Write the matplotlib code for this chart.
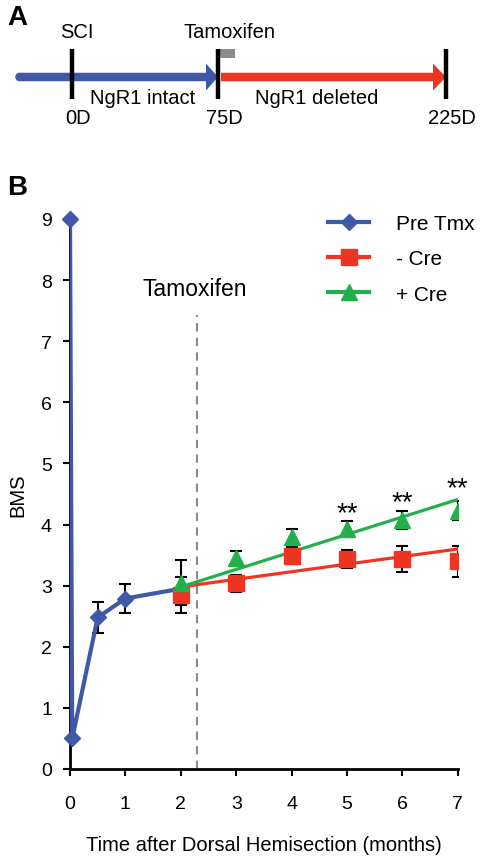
import numpy as np
import matplotlib
matplotlib.use("Agg")
import matplotlib.pyplot as plt
from matplotlib.patches import FancyArrow, Rectangle, Circle
from matplotlib.lines import Line2D

plt.rcParams["font.family"] = ["Liberation Sans", "DejaVu Sans"]

## data
# panel A timeline
day_labels = ["0D", "75D", "225D"]
phase_labels = ["NgR1 intact", "NgR1 deleted"]
event_labels = ["SCI", "Tamoxifen"]

# panel B
pre_x = [0, 0.04, 0.5, 1, 2]
pre_y = [9.0, 0.50, 2.48, 2.79, 2.95]
pre_err = [0, 0, 0.25, 0.23, 0]

months = [2, 3, 4, 5, 6, 7]
nocre_y = [2.85, 3.04, 3.49, 3.44, 3.44, 3.40]
nocre_err = [0.29, 0.14, 0.14, 0.15, 0.21, 0.25]
cre_y = [3.05, 3.46, 3.79, 3.93, 4.08, 4.23]
cre_err = [0.37, 0.10, 0.14, 0.13, 0.15, 0.15]

fit_x = [2, 7]
nocre_fit = [2.98, 3.60]
cre_fit = [2.98, 4.41]

star_x = [5, 6, 7]
star_y = [4.33, 4.52, 4.74]

tamoxifen_month = 2.3

BLUE = "#3F58A8"
RED = "#EE3524"
GREEN = "#23B04B"

fig = plt.figure(figsize=(4.82, 8.62), dpi=100)

## PANEL A (drawn in pixel coordinates)
axA = fig.add_axes([0, 0, 1, 1])
axA.set_xlim(0, 482)
axA.set_ylim(862, 0)
axA.axis("off")

axA.add_patch(Circle((19.5, 78), 4.25, color=BLUE, lw=0))
axA.add_patch(FancyArrow(19.5, 78, 198.5, 0, width=8.5, head_width=27, head_length=12,
                         length_includes_head=True, color=BLUE, lw=0))
axA.add_patch(FancyArrow(221, 78, 225, 0, width=8.5, head_width=27, head_length=13,
                         length_includes_head=True, color=RED, lw=0))
bar_x = [72, 218, 446]
for bx, lab in zip(bar_x, day_labels):
    axA.plot([bx, bx], [50, 100], color="k", lw=3.2, solid_capstyle="butt")
    axA.text(bx + 6, 118, lab, ha="center", va="center", fontsize=14.5)
axA.add_patch(Rectangle((216, 50), 19, 9, color="#8c8c8c", lw=0))
axA.text(77, 33, event_labels[0], ha="center", va="center", fontsize=14.5)
axA.text(230, 33, event_labels[1], ha="center", va="center", fontsize=14.5)
axA.text(143, 98, phase_labels[0], ha="center", va="center", fontsize=14.5)
axA.text(317, 98, phase_labels[1], ha="center", va="center", fontsize=14.5)
axA.text(7, 18, "A", ha="left", va="center", fontsize=20, fontweight="bold")
axA.text(7, 188, "B", ha="left", va="center", fontsize=20, fontweight="bold")

## PANEL B
ax = fig.add_axes([70/482, 1-770/862, 387.7/482, 550/862])

ax.axvline(tamoxifen_month, ymax=7.43/9, color="#8a8a8a", lw=1.5, ls=(0, (4, 3)), zorder=1)
ax.text(tamoxifen_month - 0.05, 7.87, "Tamoxifen", ha="center", va="center", fontsize=16.5)

ekw = dict(fmt="none", ecolor="k", elinewidth=1.5, capsize=4, capthick=1.5, zorder=2)
ax.errorbar(pre_x, pre_y, yerr=pre_err, **ekw)
ax.errorbar(months, nocre_y, yerr=nocre_err, **ekw)
ax.errorbar(months, cre_y, yerr=cre_err, **ekw)

ax.plot(pre_x, pre_y, color=BLUE, lw=3, zorder=3)
ax.plot(pre_x[:-1], pre_y[:-1], ls="none", marker="D", ms=8, color=BLUE,
        clip_on=False, zorder=4)

ax.plot(fit_x, nocre_fit, color=RED, lw=2.3, zorder=3)
ax.plot(fit_x, cre_fit, color=GREEN, lw=2.3, zorder=3)
ax.plot(months, nocre_y, ls="none", marker="s", ms=11, color=RED, zorder=4)
ax.plot(months, cre_y, ls="none", marker="^", ms=12, color=GREEN, zorder=5)

for sx, sy in zip(star_x, star_y):
    ax.annotate("**", (sx, sy), xytext=(0, -11.5), textcoords="offset points",
                ha="center", va="baseline", fontsize=20)

ax.set_xlim(0, 7)
ax.set_ylim(0, 9)
ax.set_xticks(range(0, 8))
ax.set_yticks(range(0, 10))
ax.spines["top"].set_visible(False)
ax.spines["right"].set_visible(False)
ax.spines["left"].set_linewidth(2)
ax.spines["bottom"].set_linewidth(2)
ax.tick_params(axis="both", labelsize=14, width=1.5, length=5, direction="out")
ax.tick_params(axis="x", pad=14)
ax.tick_params(axis="y", pad=8)
ax.set_xlabel("Time after Dorsal Hemisection (months)", fontsize=14.5, labelpad=16)
ax.set_ylabel("BMS", fontsize=14.5, labelpad=10)

handles = [
    Line2D([], [], color=BLUE, lw=3, marker="D", ms=8),
    Line2D([], [], color=RED, lw=3, marker="s", ms=11),
    Line2D([], [], color=GREEN, lw=3, marker="^", ms=12),
]
ax.legend(handles, ["Pre Tmx", "- Cre", "+ Cre"], loc="upper left",
          bbox_to_anchor=(0.665, 1.009), frameon=False, fontsize=15,
          handlelength=2.0, handletextpad=1.25, labelspacing=0.78,
          borderpad=0, borderaxespad=0)

plt.savefig("out.png", dpi=100)
plt.close(fig)
